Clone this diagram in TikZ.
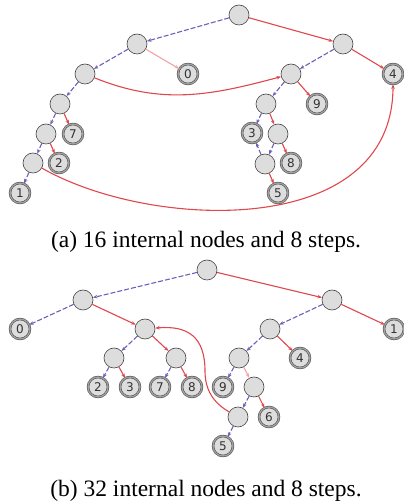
\documentclass[tikz,border=0pt]{standalone}
\usepackage{fontspec}
\setmainfont{Liberation Serif}
\newfontfamily\labelfont{DejaVu Sans}
\usetikzlibrary{arrows.meta}
\definecolor{stepred}{HTML}{E0474C}
\definecolor{steppink}{HTML}{F2A3A5}
\definecolor{stepblue}{HTML}{6A62B8}
\definecolor{nodegray}{HTML}{DDDDDD}
\definecolor{rimgray}{HTML}{444444}
\tikzset{
  inner/.style={circle,draw=rimgray,fill=nodegray,line width=0.6pt,minimum size=20pt,inner sep=0pt},
  leaf/.style={circle,draw=rimgray,double=gray!75,double distance=1.4pt,line width=0.5pt,fill=nodegray,
    minimum size=20pt,inner sep=0pt,font=\labelfont\fontsize{12}{12}\selectfont,text=black!80},
  redarr/.style={stepred,line width=1.1pt,-{Stealth[length=4.5pt,width=3.5pt]}},
  pinkarr/.style={redarr,steppink},
  bluearr/.style={stepblue,line width=1.1pt,dash pattern=on 5pt off 2pt,-{Stealth[length=4.5pt,width=3.5pt]}},
  caption/.style={anchor=base,font=\fontsize{23.5}{28}\selectfont}
}

\begin{document}
\begin{tikzpicture}[x=1pt,y=1pt]
    \useasboundingbox (0,0) rectangle (404,501);
    % (a) tree
    \node[inner] (ra) at (239,486) {};
    \node[inner] (a1) at (137,457) {};
    \node[inner] (a2) at (85,427) {};
    \node[inner] (a3) at (60,397) {};
    \node[inner] (a4) at (46,367) {};
    \node[inner] (a5) at (33,338) {};
    \node[inner] (a6) at (343,457) {};
    \node[inner] (a7) at (291,427) {};
    \node[inner] (a8) at (266,397) {};
    \node[inner] (a9) at (278,367) {};
    \node[inner] (a10) at (265,337) {};
    \node[leaf] (la0) at (188,427) {0};
    \node[leaf] (la7) at (73,367) {7};
    \node[leaf] (la2) at (59,338) {2};
    \node[leaf] (la1) at (20,308) {1};
    \node[leaf] (la4) at (393,427) {4};
    \node[leaf] (la9) at (317,397) {9};
    \node[leaf] (la3) at (252,368) {3};
    \node[leaf] (la8) at (291,338) {8};
    \node[leaf] (la5) at (278,308) {5};
    % (a) connectors
    \foreach \s/\t in {ra/a1,a1/a2,a2/a3,a3/a4,a4/a5,a5/la1,a6/a7,a7/a8,a8/la3,a9/a10,a10/la3}
      {\draw[bluearr] (\s) -- (\t);}
    \foreach \s/\t in {ra/a6,a6/la4,a3/la7,a4/la2,a7/la9,a8/a9,a9/la8,a10/la5}
      {\draw[redarr] (\s) -- (\t);}
    \draw[pinkarr] (a1) -- (la0);
    \draw[redarr] (a2) to[out=-22,in=195] (a7);
    \draw[redarr] (a5) .. controls (150,271) and (393,261) .. (la4);
    \node[caption] (capa) at (206,253) {(a) 16 internal nodes and 8 steps.};

    % (b) tree
    \node[inner] (rb) at (207,231) {};
    \node[inner] (b1) at (83,201) {};
    \node[inner] (b2) at (145,172) {};
    \node[inner] (b3) at (114,143) {};
    \node[inner] (b4) at (176,143) {};
    \node[inner] (b5) at (332,201) {};
    \node[inner] (b6) at (270,172) {};
    \node[inner] (b7) at (239,143) {};
    \node[inner] (b8) at (254,114) {};
    \node[inner] (b9) at (238,84) {};
    \node[leaf] (lb0) at (20,172) {0};
    \node[leaf] (lb2) at (98,114) {2};
    \node[leaf] (lb3) at (130,114) {3};
    \node[leaf] (lb7) at (160,114) {7};
    \node[leaf] (lb8) at (192,114) {8};
    \node[leaf] (lb1) at (394,172) {1};
    \node[leaf] (lb4) at (300,143) {4};
    \node[leaf] (lb9) at (223,114) {9};
    \node[leaf] (lb6) at (269,84) {6};
    \node[leaf] (lb5) at (223,55) {5};
    % (b) connectors
    \foreach \s/\t in {rb/b1,b1/lb0,b2/b3,b3/lb2,b4/lb7,b5/b6,b6/b7,b7/lb9,b8/b9,b9/lb5}
      {\draw[bluearr] (\s) -- (\t);}
    \foreach \s/\t in {rb/b5,b1/b2,b2/b4,b3/lb3,b4/lb8,b5/lb1,b6/lb4,b8/lb6}
      {\draw[redarr] (\s) -- (\t);}
    \draw[pinkarr] (b7) -- (b8);
    \draw[redarr] (b9) to[out=150,in=-90] (205,130) to[out=90,in=5,looseness=1.3] (b2);
    \node[caption] (capb) at (206,5) {(b) 32 internal nodes and 8 steps.};
\end{tikzpicture}
\end{document}
